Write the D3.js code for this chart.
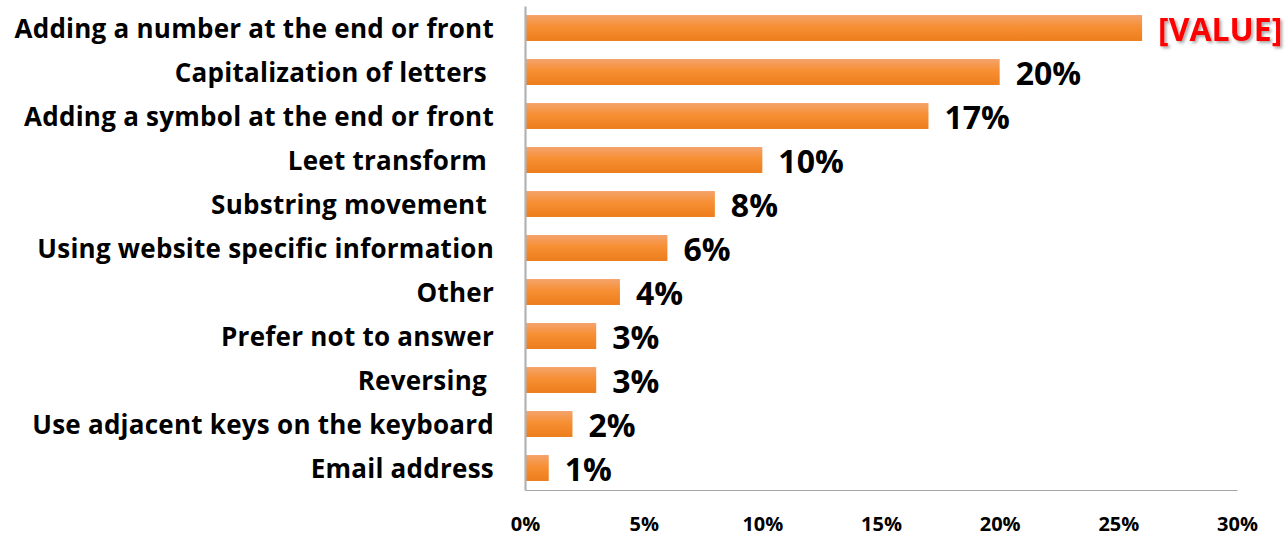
<!DOCTYPE html>
<html>
<head>
<meta charset="utf-8">
<script src="https://cdn.jsdelivr.net/npm/d3@7"></script>
<style>
  html, body { margin: 0; padding: 0; background: #fff; }
  svg { display: block; }
  text { font-family: "Open Sans", sans-serif; font-weight: bold; }
</style>
</head>
<body>
<svg id="chart" width="1285" height="537"></svg>
<script>
// Password modification strategies (share of respondents)
const categories = [
  "Adding a number at the end or front",
  "Capitalization of letters ",
  "Adding a symbol at the end or front",
  "Leet transform ",
  "Substring movement ",
  "Using website specific information",
  "Other",
  "Prefer not to answer",
  "Reversing ",
  "Use adjacent keys on the keyboard",
  "Email address"
];
const values = [26, 20, 17, 10, 8, 6, 4, 3, 3, 2, 1];
const valueLabels = ["[VALUE]", "20%", "17%", "10%", "8%", "6%", "4%", "3%", "3%", "2%", "1%"];
const tickValues = [0, 5, 10, 15, 20, 25, 30];

const svg = d3.select("#chart");
const plotLeft = 525, plotRight = 1237, plotTop = 6, plotBottom = 490;
const FONT = "'Open Sans', sans-serif";

const x = d3.scaleLinear().domain([0, 30]).range([plotLeft, plotRight]);
const y = d3.scaleBand().domain(categories).range([plotTop, plotBottom]).paddingInner(0.41).paddingOuter(0.205);

// Bar gradient
const defs = svg.append("defs");
const grad = defs.append("linearGradient").attr("id", "barGrad")
  .attr("x1", 0).attr("y1", 0).attr("x2", 0).attr("y2", 1);
grad.append("stop").attr("offset", "0%").attr("stop-color", "#f4a36c");
grad.append("stop").attr("offset", "45%").attr("stop-color", "#f78f33");
grad.append("stop").attr("offset", "100%").attr("stop-color", "#ec7d1c");

const shadow = defs.append("filter").attr("id", "txtShadow")
  .attr("x", "-10%").attr("y", "-20%").attr("width", "130%").attr("height", "160%");
shadow.append("feDropShadow").attr("dx", 2).attr("dy", 2).attr("stdDeviation", 1.5)
  .attr("flood-color", "#000").attr("flood-opacity", 0.35);

// Bars
svg.append("g").selectAll("rect").data(values).join("rect")
  .attr("x", x(0))
  .attr("y", (d, i) => y(categories[i]))
  .attr("width", d => x(d) - x(0))
  .attr("height", y.bandwidth())
  .attr("fill", "url(#barGrad)");

// Axes
const xAxis = svg.append("g").attr("transform", `translate(0,${plotBottom})`)
  .call(d3.axisBottom(x).tickValues(tickValues).tickSize(0).tickFormat(d => d + "%"));
xAxis.select(".domain").attr("stroke", "#a6a6a6").attr("stroke-width", 1.2);
xAxis.selectAll("text").attr("font-size", 20).attr("fill", "#000")
  .attr("dy", 0).attr("y", 41).attr("font-family", FONT).attr("font-weight", "bold");

const yAxis = svg.append("g").attr("transform", `translate(${plotLeft},0)`)
  .call(d3.axisLeft(y).tickSize(0).tickPadding(31));
yAxis.select(".domain").attr("stroke", "#b3b3b3").attr("stroke-width", 2.2);
yAxis.selectAll("text").attr("font-size", 26).attr("fill", "#000")
  .attr("dy", "0.4em")
  .attr("letter-spacing", 0.25)
  .attr("font-family", FONT).attr("font-weight", "bold")
  .style("white-space", "pre");

// Value labels
svg.append("g").selectAll("text").data(values).join("text")
  .attr("x", d => x(d) + 16)
  .attr("y", (d, i) => y(categories[i]) + y.bandwidth() / 2)
  .attr("dy", "0.41em")
  .attr("font-size", 32)
  .attr("fill", (d, i) => i === 0 ? "#ff0000" : "#000")
  .attr("filter", (d, i) => i === 0 ? "url(#txtShadow)" : null)
  .text((d, i) => valueLabels[i]);
</script>
</body>
</html>
